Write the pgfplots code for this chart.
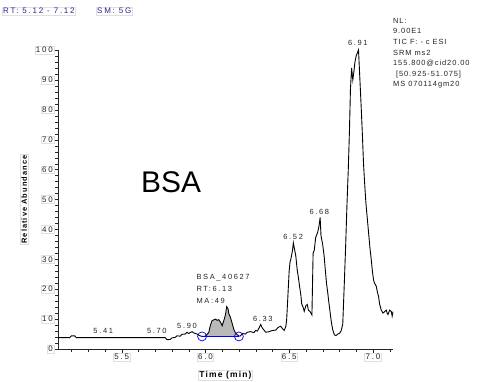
\documentclass[border=0pt]{standalone}
\usepackage{fontspec}
\setmainfont{Liberation Sans}
\newfontfamily\sm[LetterSpace=22]{Liberation Sans}
\newfontfamily\smr[LetterSpace=12]{Liberation Sans}
\newfontfamily\smb[LetterSpace=14]{Liberation Sans}
\usepackage{pgfplots}
\pgfplotsset{compat=1.18}
\definecolor{hdr}{RGB}{45,35,140}
\definecolor{ann}{RGB}{35,35,35}
\begin{document}
\begin{tikzpicture}
\useasboundingbox (0,0) rectangle (485bp,382bp);
\node[anchor=west, font=\sm\fontsize{8}{9}\selectfont, text=hdr, draw=black!12, inner sep=1pt] at (2bp,371bp) {RT: 5.12 - 7.12};
\node[anchor=west, font=\sm\fontsize{8}{9}\selectfont, text=hdr, draw=black!12, inner sep=1pt] at (96bp,371bp) {SM: 5G};
\node[anchor=north west, align=left, font=\smr\fontsize{7.5}{10.6}\selectfont, text=ann, inner sep=0pt] at (393bp,364bp)
 {NL:\\9.00E1\\TIC F: - c ESI\\SRM ms2\\155.800@cid20.00\\\relax\ [50.925-51.075]\\MS 070114gm20};
\begin{axis}[
  at={(58bp,33bp)}, anchor=south west,
  scale only axis, width=335bp, height=299bp,
  xmin=5.12, xmax=7.12, ymin=0, ymax=100,
  axis lines=left, axis line style={-, black!85},
  clip=false,
  tick align=outside,
  major tick length=4bp, minor tick length=2.5bp,
  tick style={black!85},
  xtick={5.5,6,6.5,7}, xticklabels={5.5,6.0,6.5,7.0},
  minor xtick={5.2,5.3,5.4,5.6,5.7,5.8,5.9,6.1,6.2,6.3,6.4,6.6,6.7,6.8,6.9,7.1},
  ytick={0,10,...,100},
  minor ytick={2,4,6,8,12,14,16,18,22,24,26,28,32,34,36,38,42,44,46,48,52,54,56,58,62,64,66,68,72,74,76,78,82,84,86,88,92,94,96,98},
  /pgf/number format/assume math mode=true,
  ticklabel style={font=\sm\fontsize{8}{9}\selectfont, text=ann, draw=black!12, inner sep=1pt},
  xlabel={Time (min)}, ylabel={Relative Abundance},
  xlabel style={at={(axis description cs:0.5,-0.087)}, anchor=center, font=\smb\bfseries\fontsize{8.5}{9}\selectfont, draw=black!12, inner sep=1pt},
  ylabel style={at={(axis description cs:-0.101,0.5)}, anchor=center, font=\smb\bfseries\fontsize{7.5}{8}\selectfont, draw=black!12, inner sep=1pt},
]
% shaded peak area
\addplot[fill=gray!55, draw=none] coordinates {
 (5.98,4.2) (6.00,4.3) (6.02,5.5) (6.03,8.0) (6.04,9.5) (6.06,10.0) (6.07,9.6) (6.08,9.8) (6.09,9.0) (6.10,7.8) (6.11,9.5) (6.12,11.5) (6.127,14.2) (6.135,13.5) (6.14,11.8) (6.15,10.5) (6.16,8.5) (6.17,6.5) (6.18,5.3) (6.20,4.2)
} -- cycle;
\addplot[black, line width=0.9pt] coordinates {
 (5.12,3.8) (5.19,3.8) (5.20,4.4) (5.22,4.4) (5.23,3.8) (5.76,3.8) (5.77,3.1) (5.79,3.2) (5.80,3.7) (5.82,3.9) (5.83,4.4) (5.85,4.3) (5.86,4.9) (5.88,5.0) (5.89,5.6) (5.90,5.2) (5.92,5.8) (5.93,5.4) (5.95,5.0) (5.96,4.6) (5.98,4.2)
 (6.00,4.3) (6.02,5.5) (6.03,8.0) (6.04,9.5) (6.06,10.0) (6.07,9.6) (6.08,9.8) (6.09,9.0) (6.10,7.8) (6.11,9.5) (6.12,11.5) (6.127,14.2) (6.135,13.5) (6.14,11.8) (6.15,10.5) (6.16,8.5) (6.17,6.5) (6.18,5.3) (6.20,4.3)
 (6.21,4.4) (6.22,5.2) (6.24,5.0) (6.25,5.6) (6.27,5.8) (6.29,5.5) (6.30,6.2) (6.31,6.0) (6.32,7.0) (6.33,8.2) (6.34,7.0) (6.35,6.3) (6.36,5.6) (6.38,5.8) (6.40,6.2) (6.42,6.3) (6.43,7.0) (6.44,7.4) (6.45,7.6) (6.46,6.8) (6.47,6.2) (6.48,7.5)
 (6.485,9.7) (6.49,15) (6.50,26) (6.505,29) (6.51,30) (6.52,33) (6.525,35.5) (6.53,34) (6.54,31) (6.548,26.5) (6.555,24) (6.562,21) (6.57,18) (6.575,15) (6.582,14.2) (6.59,12.6) (6.60,14.5) (6.608,14.9) (6.615,13) (6.625,12.5) (6.636,11.4)
 (6.643,32) (6.65,33) (6.658,37.2) (6.67,39) (6.678,41) (6.685,44) (6.69,38) (6.70,35) (6.709,31) (6.715,27) (6.723,22) (6.73,19) (6.737,15.6) (6.745,12) (6.753,8.6) (6.76,6.5) (6.77,4.7) (6.78,4.5) (6.79,5.0) (6.80,5.2) (6.81,6.0) (6.82,8.3)
 (6.83,23) (6.837,34) (6.845,48) (6.853,60) (6.86,73) (6.866,87) (6.873,94) (6.88,90) (6.887,93) (6.893,96) (6.90,98) (6.907,99) (6.914,100) (6.92,93) (6.925,87) (6.93,81) (6.937,72) (6.944,62) (6.95,56) (6.958,49) (6.966,44) (6.974,39) (6.982,34) (6.99,30) (6.997,26)
 (7.004,23) (7.01,22) (7.02,21) (7.027,19) (7.034,17.5) (7.04,15) (7.05,13) (7.06,12) (7.07,12.5) (7.08,13) (7.085,12) (7.09,11.5) (7.10,13) (7.11,12.5) (7.115,11) (7.12,12.5)
};
\addplot[blue, line width=1pt] coordinates {(5.98,4.2) (6.20,4.2)};
\addplot[only marks, mark=o, mark size=4.5pt, blue, mark options={line width=0.7pt}] coordinates {(5.98,4.2) (6.20,4.2)};
% peak labels
\begin{scope}[every node/.style={font=\sm\fontsize{7.5}{8}\selectfont, text=ann, inner sep=0pt}]
\node at (axis cs:5.39,6.0) {5.41};
\node at (axis cs:5.71,6.0) {5.70};
\node at (axis cs:5.89,7.7) {5.90};
\node at (axis cs:6.343,10.1) {6.33};
\node at (axis cs:6.524,37.6) {6.52};
\node at (axis cs:6.68,46) {6.68};
\node at (axis cs:6.91,102.3) {6.91};
\node[anchor=west] at (axis cs:5.946,23.8) {BSA\_40627};
\node[anchor=west] at (axis cs:5.946,20.1) {RT:6.13};
\node[anchor=west] at (axis cs:5.946,16.1) {MA:49};
\end{scope}
\node[font=\fontsize{30}{32}\selectfont, inner sep=0pt] at (axis cs:5.795,55.7) {BSA};
\end{axis}
\end{tikzpicture}
\end{document}
